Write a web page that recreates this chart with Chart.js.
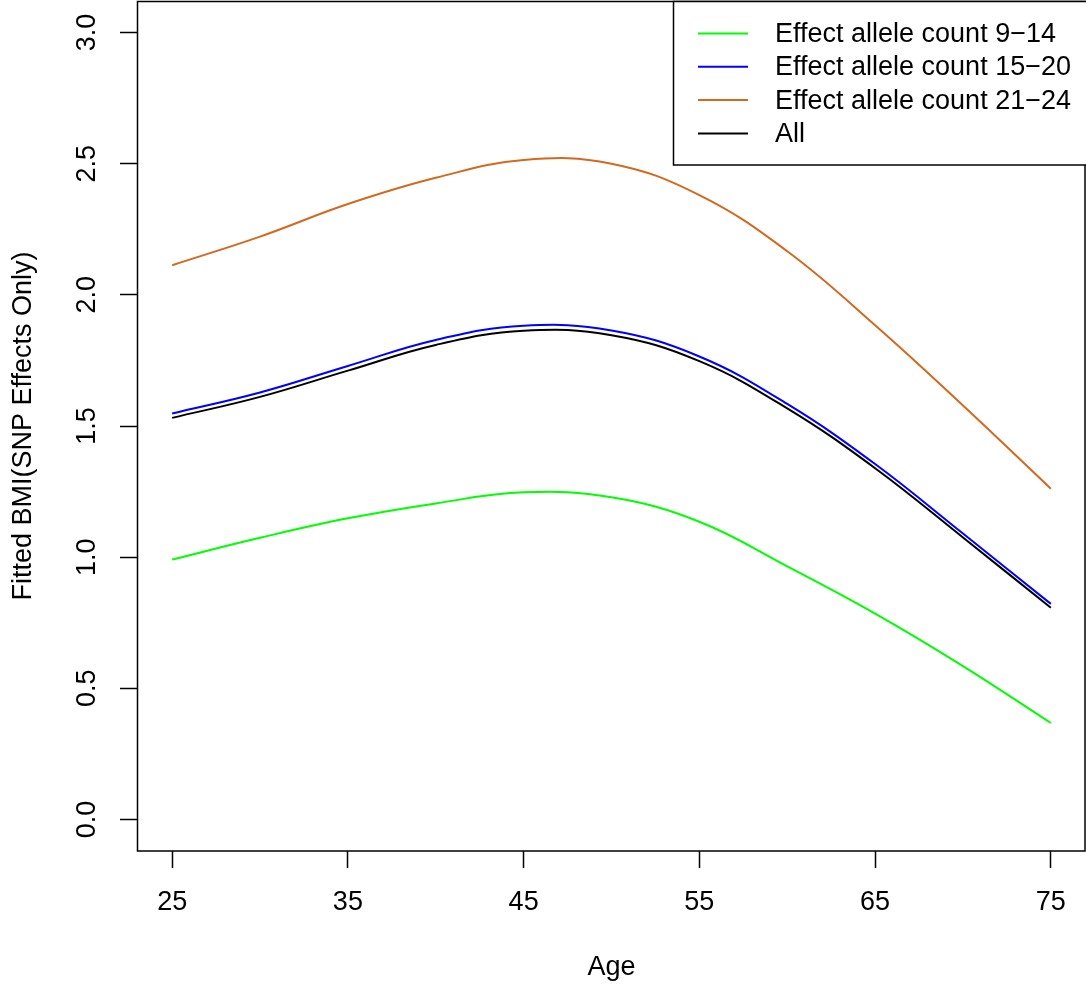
<!DOCTYPE html>
<html>
<head>
<meta charset="utf-8">
<script src="https://cdn.jsdelivr.net/npm/chart.js@4.4.1/dist/chart.umd.min.js"></script>
<style>
  html, body { margin: 0; padding: 0; background: #ffffff; }
  #wrap { width: 1086px; height: 986px; position: relative; }
</style>
</head>
<body>
<div id="wrap"><canvas id="c" width="1086" height="986"></canvas></div>
<script>
// ---- data ----
const ages = [25, 30, 35, 40, 45, 50, 55, 60, 65, 70, 75];
const count9to14  = [0.991, 1.074, 1.148, 1.205, 1.247, 1.228, 1.135, 0.965, 0.785, 0.585, 0.368];
const count15to20 = [1.548, 1.628, 1.729, 1.828, 1.882, 1.864, 1.765, 1.584, 1.355, 1.090, 0.822];
const count21to24 = [2.113, 2.222, 2.346, 2.446, 2.514, 2.500, 2.380, 2.166, 1.884, 1.578, 1.261];
const countAll    = [1.531, 1.611, 1.711, 1.809, 1.863, 1.846, 1.747, 1.567, 1.339, 1.075, 0.807];

const seriesLabels = ["Effect allele count 9\u221214", "Effect allele count 15\u221220", "Effect allele count 21\u221224", "All"];
const seriesColors = ["#00ff00", "#0000ff", "#d2691e", "#000000"];
const xTicks = [25, 35, 45, 55, 65, 75];
const yTicks = [0, 0.5, 1.0, 1.5, 2.0, 2.5, 3.0];
const xTitle = "Age";
const yTitle = "Fitted BMI(SNP Effects Only)";

const FONT = "'Liberation Sans', Arial, Helvetica, sans-serif";
const FS = 27;

function toXY(vals) { return ages.map((a, i) => ({ x: a, y: vals[i] })); }
const allSeries = [count9to14, count15to20, count21to24, countAll];

const datasets = allSeries.map((vals, i) => ({
  label: seriesLabels[i],
  data: toXY(vals),
  borderColor: seriesColors[i],
  backgroundColor: seriesColors[i],
  borderWidth: 2,
  pointRadius: 0,
  fill: false,
  tension: 0.4,
  cubicInterpolationMode: 'default'
}));

const boxPlugin = {
  id: 'rbox',
  afterDraw(chart) {
    const ctx = chart.ctx;
    const a = chart.chartArea;
    ctx.save();
    ctx.strokeStyle = '#000';
    ctx.lineWidth = 1.5;
    ctx.strokeRect(a.left + 0.5, a.top + 0.5, a.right - a.left - 1.5, a.bottom - a.top - 0.5);

    // legend box (top-right)
    const lx = 673.5, ly = a.top + 0.5, lw = 1086 - 673.5 + 5, lh = 165 - ly;
    ctx.fillStyle = '#fff';
    ctx.fillRect(lx, ly, lw, lh);
    ctx.strokeRect(lx, ly, lw, lh);
    ctx.font = FS + "px " + FONT;
    ctx.textBaseline = 'middle';
    ctx.textAlign = 'left';
    chart.data.datasets.forEach((ds, i) => {
      const yLine = 33.5 + i * 33.3;
      ctx.strokeStyle = ds.borderColor;
      ctx.lineWidth = 2;
      ctx.beginPath();
      ctx.moveTo(698, yLine);
      ctx.lineTo(748, yLine);
      ctx.stroke();
      ctx.fillStyle = '#000';
      ctx.fillText(ds.label, 775, yLine + 1);
    });
    ctx.restore();
  }
};

new Chart(document.getElementById('c'), {
  type: 'line',
  data: { datasets },
  options: {
    responsive: false,
    animation: false,
    layout: { padding: { top: 1, right: 0, bottom: 0, left: 0 } },
    plugins: { legend: { display: false }, tooltip: { enabled: false } },
    scales: {
      x: {
        type: 'linear',
        min: 23, max: 77,
        afterBuildTicks(scale) { scale.ticks = xTicks.map(v => ({ value: v })); },
        afterFit(scale) { scale.height = 986 - 851; scale.paddingLeft = 0; scale.paddingRight = 0; },
        grid: { drawOnChartArea: false, drawTicks: true, tickLength: 17, tickColor: '#000', tickWidth: 1.5 },
        border: { display: false },
        ticks: { color: '#000', font: { family: FONT, size: FS }, padding: 18, maxRotation: 0, autoSkip: false,
                 callback: v => String(v) },
        title: { display: true, text: xTitle, color: '#000', font: { family: FONT, size: FS }, padding: { top: 0, bottom: 2 } }
      },
      y: {
        type: 'linear',
        min: -0.12, max: 3.12,
        afterBuildTicks(scale) { scale.ticks = yTicks.map(v => ({ value: v })); },
        afterFit(scale) { scale.width = 137; scale.paddingTop = 0; scale.paddingBottom = 0; },
        grid: { drawOnChartArea: false, drawTicks: true, tickLength: 17, tickColor: '#000', tickWidth: 1.5 },
        border: { display: false },
        ticks: { color: '#000', font: { family: FONT, size: FS }, padding: 14, minRotation: 90, maxRotation: 90,
                 crossAlign: 'center', autoSkip: false, callback: v => v.toFixed(1) },
        title: { display: true, text: yTitle, color: '#000', font: { family: FONT, size: FS }, padding: { top: 7, bottom: 0 } }
      }
    }
  },
  plugins: [boxPlugin]
});
</script>
</body>
</html>
